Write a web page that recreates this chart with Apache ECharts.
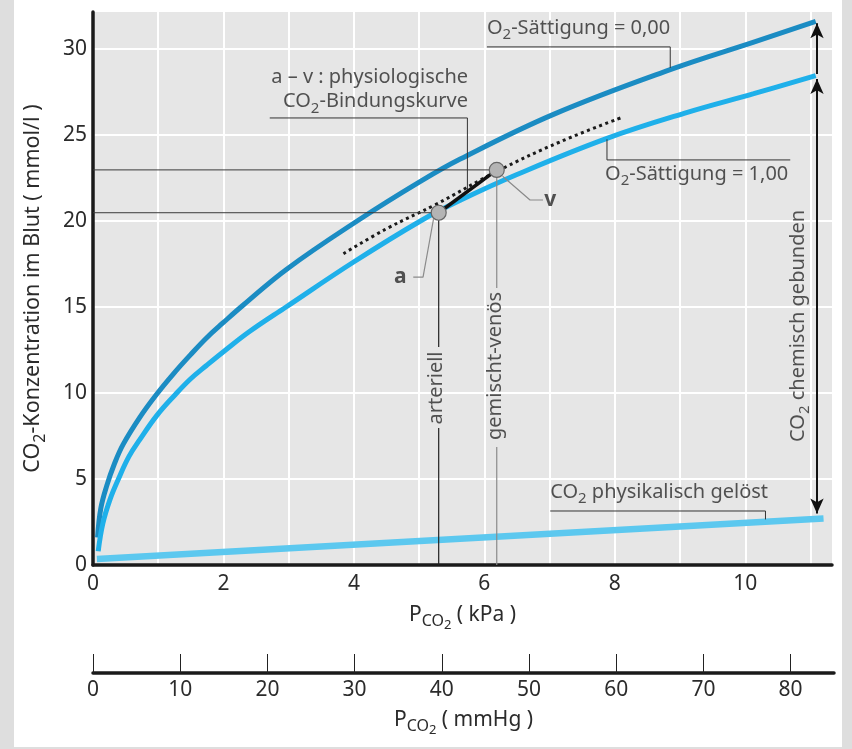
<!DOCTYPE html>
<html>
<head>
<meta charset="utf-8">
<title>CO2-Bindungskurven</title>
<script src="https://cdn.jsdelivr.net/npm/echarts@6/dist/echarts.min.js"></script>
<style>
html,body{margin:0;padding:0;background:#dedede;}
#panel{position:absolute;left:14px;top:0;width:828px;height:747px;background:#fff;}
#main{position:absolute;left:0;top:0;width:852px;height:749px;}
</style>
</head>
<body>
<div id="panel"></div>
<div id="main"></div>
<script>
// CO2-Bindungskurven des Blutes
const FONT = '"Noto Sans", sans-serif'
const TXT = '#2b2b2b'

// Achsen
const kpaTicks = [0, 2, 4, 6, 8, 10]
const mmhgTicks = [0, 10, 20, 30, 40, 50, 60, 70, 80]
const co2Ticks = [0, 5, 10, 15, 20, 25, 30]
const kpaMax = 11.33
const co2Max = 32.15

// O2-Saettigung = 0,00
const pSat0 = [0.07, 0.12, 0.21, 0.33, 0.46, 0.72, 0.97, 1.23, 1.49, 1.74, 2.0, 2.3, 2.97, 4.05, 5.02, 5.63, 7.06, 8.85, 10.13, 11.08]
const cSat0 = [1.6, 3.3, 4.6, 5.9, 7.0, 8.6, 9.9, 11.1, 12.2, 13.2, 14.1, 15.1, 17.2, 20.0, 22.3, 23.6, 26.2, 28.8, 30.4, 31.6]
// O2-Saettigung = 1,00
const pSat1 = [0.08, 0.15, 0.26, 0.39, 0.55, 0.72, 0.98, 1.26, 1.49, 1.74, 2.0, 2.41, 2.96, 3.99, 5.02, 5.63, 6.5, 7.88, 9.1, 10.13, 11.08]
const cSat1 = [0.8, 2.4, 3.8, 5.0, 6.3, 7.3, 8.7, 9.9, 10.8, 11.6, 12.4, 13.6, 15.0, 17.6, 20.0, 21.2, 22.7, 24.8, 26.3, 27.4, 28.45]
// CO2 physikalisch geloest
const pSol = [0.06, 11.2]
const cSol = [0.35, 2.7]
// a - v : physiologische Bindungskurve (gepunktet)
const pAV = [3.84, 4.5, 5.25, 6.2, 7.16, 8.13]
const cAV = [18.1, 19.55, 20.95, 22.9, 24.6, 26.05]
// arteriell (a) / gemischt-venoes (v)
const ptName = ['a', 'v']
const ptKpa = [5.3, 6.19]
const ptCo2 = [20.48, 22.97]

function pairs(xs, ys) { return xs.map((x, i) => [x, ys[i]]) }

const rich = {
  n: {fontFamily: FONT, fontSize: 20, color: TXT, lineHeight: 24, verticalAlign: 'top'},
  s: {fontFamily: FONT, fontSize: 15, color: TXT, lineHeight: 15, padding: [9.5, 0, 0, 0], verticalAlign: 'top'},
  b: {fontFamily: FONT, fontSize: 21, fontWeight: 'bold', color: TXT}
}
const yRich = {
  n: {fontFamily: FONT, fontSize: 21.5, color: TXT, lineHeight: 26, verticalAlign: 'top'},
  s: {fontFamily: FONT, fontSize: 16, color: TXT, lineHeight: 16, padding: [10, 0, 0, 0], verticalAlign: 'top'}
}
const nameRich = {
  p: {fontFamily: FONT, fontSize: 21, color: TXT, lineHeight: 24, verticalAlign: 'top'},
  c: {fontFamily: FONT, fontSize: 16, color: TXT, lineHeight: 16, padding: [8, 0, 0, 0], verticalAlign: 'top'},
  d: {fontFamily: FONT, fontSize: 13, color: TXT, lineHeight: 13, padding: [14, 0, 0, 0], verticalAlign: 'top'}
}

// Hilfslinien, in Datenkoordinaten
const guides = [
  {pts: [[0, ptCo2[0]], [ptKpa[0], ptCo2[0]]], color: '#3a3a3a', width: 1},
  {pts: [[0, ptCo2[1]], [ptKpa[1], ptCo2[1]]], color: '#3a3a3a', width: 1},
  {pts: [[ptKpa[0], ptCo2[0]], [ptKpa[0], 12.67]], color: '#222', width: 1.2},
  {pts: [[ptKpa[0], 7.97], [ptKpa[0], 0]], color: '#222', width: 1.2},
  {pts: [[ptKpa[1], ptCo2[1]], [ptKpa[1], 16.1]], color: '#8a8a8a', width: 1.2},
  {pts: [[ptKpa[1], 6.86], [ptKpa[1], 0]], color: '#8a8a8a', width: 1.2},
  {pts: [[2.71, 25.99], [5.74, 25.99], [5.74, 21.75]], color: '#333', width: 1},
  {pts: [[6.04, 30.12], [8.85, 30.12], [8.85, 28.9]], color: '#333', width: 1},
  {pts: [[7.88, 24.75], [7.88, 23.55], [10.69, 23.55]], color: '#333', width: 1},
  {pts: [[7.01, 3.14], [10.31, 3.14], [10.31, 2.65]], color: '#333', width: 1},
  {pts: [[4.91, 16.74], [5.06, 16.74], [5.22, 20.1]], color: '#8a8a8a', width: 1.2},
  {pts: [[6.28, 22.6], [6.7, 21.22], [6.9, 21.22]], color: '#8a8a8a', width: 1.2}
]

// Beschriftungen, in Datenkoordinaten
const notes = [
  {x: 5.75, y: 27.53, align: 'right', rotate: 0, text: '{n|a – v : physiologische}\n{n|CO}{s|2}{n|-Bindungskurve}'},
  {x: 6.04, y: 31.1, align: 'left', rotate: 0, text: '{n|O}{s|2}{n|-Sättigung = 0,00}'},
  {x: 7.85, y: 22.62, align: 'left', rotate: 0, text: '{n|O}{s|2}{n|-Sättigung = 1,00}'},
  {x: 7.01, y: 4.13, align: 'left', rotate: 0, text: '{n|CO}{s|2}{n| physikalisch gelöst}'},
  {x: 10.84, y: 13.9, align: 'center', rotate: 90, text: '{n|CO}{s|2}{n| chemisch gebunden}'},
  {x: 5.29, y: 10.29, align: 'center', rotate: 90, text: '{n|arteriell}'},
  {x: 6.2, y: 11.57, align: 'center', rotate: 90, text: '{n|gemischt-venös}'},
  {x: 4.71, y: 16.74, align: 'center', rotate: 0, text: '{b|' + ptName[0] + '}'},
  {x: 7.01, y: 21.22, align: 'center', rotate: 0, text: '{b|' + ptName[1] + '}'}
]

const series = [
  {type: 'line', name: 'sat0', data: pairs(pSat0, cSat0), smooth: 0.4, symbol: 'none', z: 2,
   lineStyle: {color: '#1b8cc3', width: 5}},
  {type: 'line', name: 'sat1', data: pairs(pSat1, cSat1), smooth: 0.4, symbol: 'none', z: 2,
   lineStyle: {color: '#1fb0ea', width: 5}},
  {type: 'line', name: 'sol', data: pairs(pSol, cSol), symbol: 'none', z: 2,
   lineStyle: {color: '#5cc8ef', width: 6.5},
   markLine: {
     silent: true, animation: false, label: {show: false},
     lineStyle: {color: '#111', width: 2, type: 'solid'},
     symbolSize: [10, 15],
     data: [
       [{coord: [11.1, 28.55], symbol: 'none'}, {coord: [11.1, 31.5], symbol: 'arrow'}],
       [{coord: [11.1, 28.25], symbol: 'arrow'}, {coord: [11.1, 3.0], symbol: 'arrow'}]
     ]
   }},
  {type: 'line', name: 'av', data: pairs(pAV, cAV), smooth: 0.4, symbol: 'none', z: 3,
   lineStyle: {color: '#1a1a1a', width: 3, type: [3, 3.5]}}
]
guides.forEach(g => series.push({
  type: 'line', data: g.pts, symbol: 'none', silent: true, z: 3,
  lineStyle: {color: g.color, width: g.width}
}))
series.push({type: 'line', data: pairs(ptKpa, ptCo2), symbol: 'none', z: 4,
  lineStyle: {color: '#111', width: 3.5}})
series.push({type: 'scatter', data: pairs(ptKpa, ptCo2), symbolSize: 15, z: 5,
  itemStyle: {color: '#b4b4b4', borderColor: '#666', borderWidth: 1.2, opacity: 1}})
series.push({type: 'scatter', symbolSize: 1, z: 6, silent: true,
  itemStyle: {color: 'rgba(0,0,0,0)'},
  label: {show: true, position: 'inside', rich: rich},
  data: notes.map(t => ({
    value: [t.x, t.y],
    label: {formatter: t.text, align: t.align, verticalAlign: 'middle', rotate: t.rotate}
  }))})

const chart = echarts.init(document.getElementById('main'))
chart.setOption({
  animation: false,
  grid: [
    {left: 93, right: 20, top: 12, bottom: 184, show: true, backgroundColor: '#e6e6e6', borderWidth: 0},
    {left: 93, right: 18, top: 672, height: 1, show: false}
  ],
  xAxis: [{
    gridIndex: 0, type: 'value', min: 0, max: kpaMax, interval: 1,
    axisLine: {show: true, onZero: false, lineStyle: {color: '#1a1a1a', width: 3.5}},
    axisTick: {show: false},
    axisLabel: {customValues: kpaTicks, formatter: v => kpaTicks.includes(v) ? String(v) : '',
      color: TXT, fontSize: 21, fontFamily: FONT, margin: 9},
    splitLine: {show: true, showMaxLine: false, lineStyle: {color: '#fff', width: 2}},
    name: '{p|P}{c|CO}{d|2}{p| ( kPa )}', nameLocation: 'middle', nameGap: 40,
    nameTextStyle: {rich: nameRich}
  }, {
    gridIndex: 1, type: 'value', min: 0, max: kpaMax * 7.5, interval: 10,
    axisLine: {show: true, onZero: false, lineStyle: {color: '#1a1a1a', width: 3.5}},
    axisTick: {show: true, inside: true, length: 19, customValues: mmhgTicks, lineStyle: {color: '#222', width: 1}},
    axisLabel: {customValues: mmhgTicks, formatter: v => mmhgTicks.includes(v) ? String(v) : '',
      color: TXT, fontSize: 21, fontFamily: FONT, margin: 7},
    splitLine: {show: false},
    name: '{p|P}{c|CO}{d|2}{p| ( mmHg )}', nameLocation: 'middle', nameGap: 37,
    nameTextStyle: {rich: nameRich}
  }],
  yAxis: [{
    gridIndex: 0, type: 'value', min: 0, max: co2Max, interval: 5,
    axisLine: {show: true, lineStyle: {color: '#1a1a1a', width: 3.5}},
    axisTick: {show: false},
    axisLabel: {customValues: co2Ticks, formatter: v => co2Ticks.includes(v) ? String(v) : '',
      color: TXT, fontSize: 21, fontFamily: FONT, margin: 6},
    splitLine: {show: true, showMaxLine: false, lineStyle: {color: '#fff', width: 2}},
    name: '{n|CO}{s|2}{n|-Konzentration im Blut ( mmol/l )}', nameLocation: 'middle',
    nameRotate: 90, nameGap: 45, nameTextStyle: {rich: yRich}
  }, {
    gridIndex: 1, type: 'value', min: 0, max: 1, show: false
  }],
  series: series.map((s, i) => Object.assign({xAxisIndex: 0, yAxisIndex: 0, animation: false}, s))
})
</script>
</body>
</html>
